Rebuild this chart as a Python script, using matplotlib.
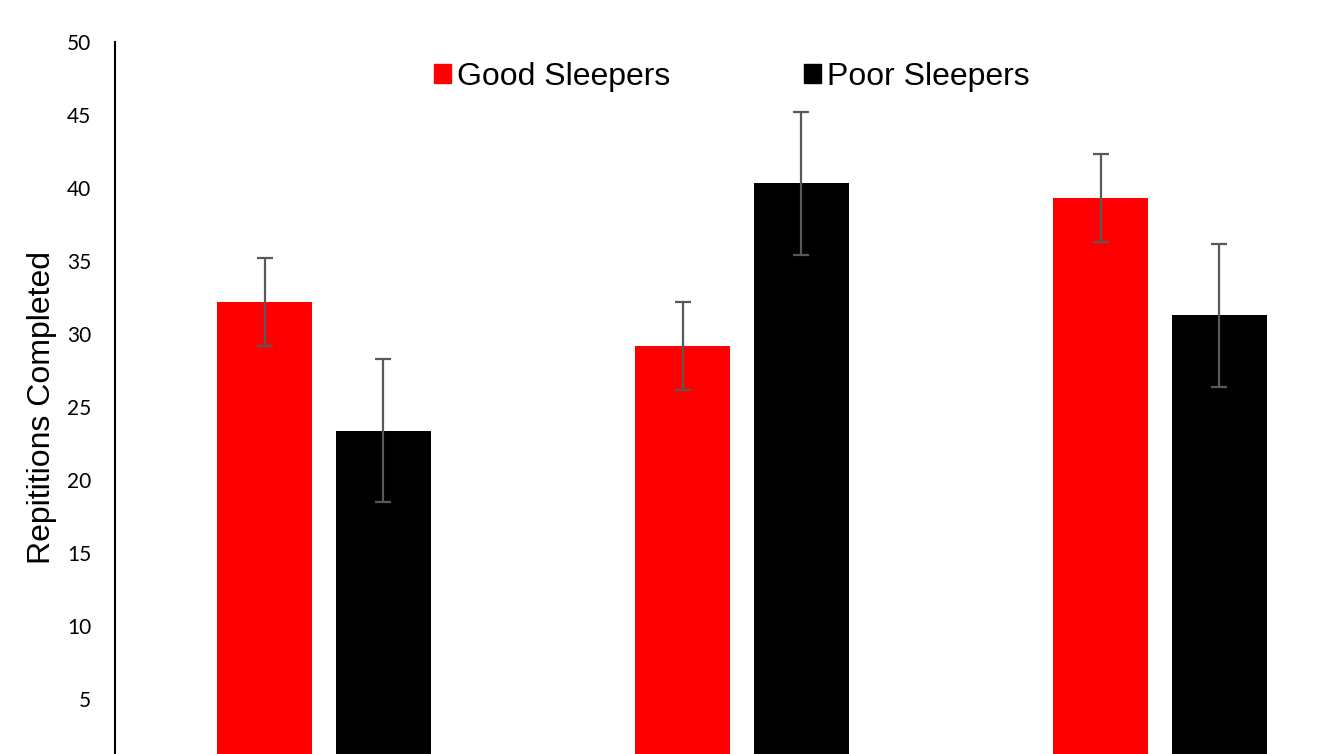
import numpy as np
import matplotlib
matplotlib.use("Agg")
import matplotlib.pyplot as plt
from matplotlib.patches import Patch

# Mean repetitions per condition, with error bar half-widths
conditions = ["Condition 1", "Condition 2", "Condition 3"]
good_means = [32.2, 29.2, 39.35]
good_err = [3.03, 3.03, 3.03]
poor_means = [23.4, 40.35, 31.3]
poor_err = [4.9, 4.9, 4.9]
series_names = ["Good Sleepers", "Poor Sleepers"]
y_ticks = [5, 10, 15, 20, 25, 30, 35, 40, 45, 50]


def main() -> None:
    fig = plt.figure(figsize=(13.27, 7.54), dpi=100)
    # axes run past the bottom and right edges of the canvas
    ax = fig.add_axes([115 / 1327, -18.3 / 754, 1254 / 1327, 730 / 754])

    x = np.arange(len(conditions))
    width = 0.225
    offset = 0.1423
    err_style = dict(ecolor="#595959", elinewidth=1.6, capsize=6, capthick=1.6)

    ax.bar(x - offset, good_means, width, color="#ff0000",
           yerr=good_err, error_kw=err_style, label=series_names[0])
    ax.bar(x + offset, poor_means, width, color="#000000",
           yerr=poor_err, error_kw=err_style, label=series_names[1])

    ax.set_xlim(-0.5, len(conditions) - 0.5)
    ax.set_ylim(0, 50)
    ax.set_yticks(y_ticks)
    ax.set_yticklabels([str(t) for t in y_ticks], fontsize=15, family="Lato")
    ax.tick_params(axis="y", length=0, pad=17)
    ax.set_xticks([])

    for side in ["top", "right", "bottom"]:
        ax.spines[side].set_visible(False)
    ax.spines["left"].set_linewidth(1.5)

    ax.set_ylabel("Repititions Completed", fontsize=23,
                  family="Liberation Sans")
    ax.yaxis.set_label_coords(-58 / 1254, (772.3 - 408) / 730)

    handles = [Patch(color="#ff0000"), Patch(color="#000000")]
    fig.legend(handles, series_names, loc="center",
               bbox_to_anchor=(732 / 1327, 1 - 77 / 754),
               ncol=2, frameon=False, handlelength=0.53, handleheight=0.53,
               handletextpad=0.19, columnspacing=4.2,
               prop={"family": "Liberation Sans", "size": 23})

    fig.savefig("out.png", dpi=100)


if __name__ == "__main__":
    main()
